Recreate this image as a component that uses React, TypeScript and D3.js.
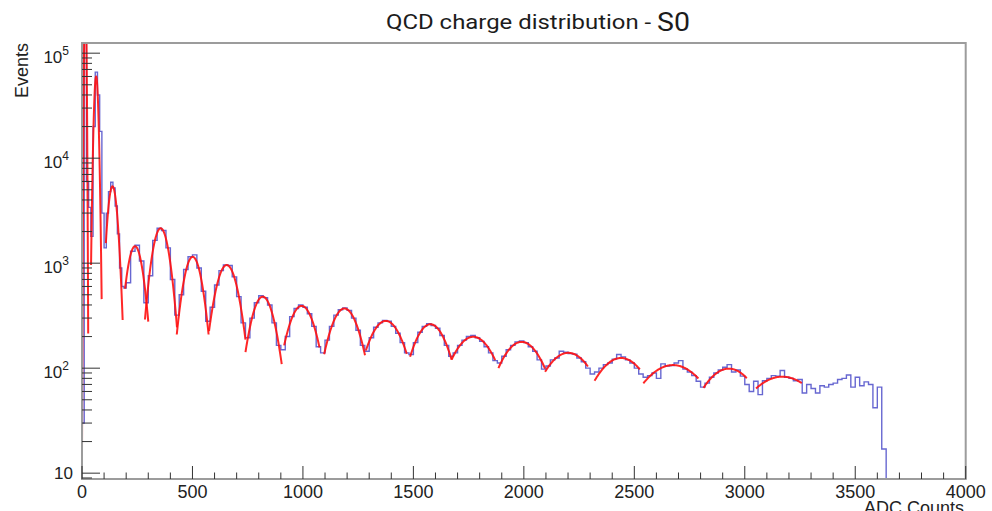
import React from "react";
import * as d3 from "d3";

const W = 992;
const H = 511;
const PLOT = { left: 82, right: 965.7, top: 43, bottom: 479 };

// Histogram: ADC counts 0–200 in 10-wide bins
const lowBinWidth = 10;
const lowCounts = [30, 150000, 6000, 3400, 1800, 20000, 66000, 40000, 18000, 3000,
  1400, 3000, 4800, 5900, 5200, 3500, 1900, 900, 600, 580];

// Histogram: ADC counts 200–3640 in 20-wide bins
const highStart = 200;
const highBinWidth = 20;
const highCounts = [
  650, 1300, 1480, 1050, 420,
  760, 1650, 2150, 2050, 1400,
  700, 320, 500, 870, 1150,
  1200, 900, 540, 280, 380,
  620, 850, 960, 950, 740,
  480, 270, 195, 300, 420,
  490, 470, 400, 270, 165,
  150, 200, 310, 370, 400,
  380, 330, 250, 160, 140,
  185, 250, 320, 360, 375,
  355, 300, 230, 165, 145,
  195, 245, 270, 285, 280,
  250, 215, 175, 140, 135,
  175, 220, 250, 265, 255,
  240, 205, 165, 130, 140,
  165, 185, 200, 205, 195,
  180, 160, 140, 118, 112,
  130, 150, 165, 178, 182,
  175, 160, 145, 120, 98,
  105, 120, 125, 145, 142,
  138, 136, 125, 115, 100,
  88, 92, 100, 108, 112,
  122, 135, 128, 120, 112,
  100, 88, 82, 85, 90,
  80, 110, 105, 106, 112,
  118, 98, 92, 85, 75,
  66, 72, 82, 90, 96,
  102, 108, 92, 96, 84,
  70, 60, 75, 56, 76,
  80, 85, 84, 95, 82,
  80, 76, 78, 58, 70,
  64, 58, 68, 66, 70,
  72, 78, 80, 86, 66,
  82, 68, 74, 70, 42,
  66, 17,
];

// Gaussian fits (red), one per photo-electron peak
const fitMean = [15, 64, 138, 240, 356, 501, 655, 818, 994, 1188, 1375, 1577, 1771, 1990, 2201, 2440, 2675, 2928, 3170];
const fitSigma = [3.3, 8, 19, 33, 35.5, 39, 47, 50, 60, 65, 79, 77, 98, 98, 115, 120, 150, 125, 165];
const fitAmp = [500000, 60000, 5400, 1450, 2150, 1150, 960, 480, 392, 370, 282, 262, 199, 178, 140, 125, 107, 99, 83];
const fitLow = [0, 41, 108, 195, 285, 429, 575, 740, 915, 1096, 1285, 1485, 1673, 1885, 2096, 2320, 2541, 2813, 3051];
const fitHigh = [28, 89, 184, 300, 430, 573, 740, 904, 1075, 1281, 1470, 1673, 1870, 2096, 2290, 2525, 2790, 3009, 3258];

const xMajorTicks = [0, 500, 1000, 1500, 2000, 2500, 3000, 3500, 4000];
const xMinorStep = 100;
const yMajorTicks = [10, 100, 1000, 10000, 100000];
const yMajorExp = ["", "2", "3", "4", "5"];
const xDomain = [0, 4000];
const yDomain = [8.8, 125000];

const title = "QCD charge distribution - ";
const titleTail = "S0";
const xTitle = "ADC Counts";
const yTitle = "Events";

export default function App() {
  const x = d3.scaleLinear().domain(xDomain).range([PLOT.left, PLOT.right]);
  const y = d3.scaleLog().domain(yDomain).range([PLOT.bottom, PLOT.top]);
  const yv = (v: number) => (v <= yDomain[0] ? PLOT.bottom : y(v));

  const bins: { x0: number; x1: number; v: number }[] = [];
  lowCounts.forEach((v, i) => bins.push({ x0: i * lowBinWidth, x1: (i + 1) * lowBinWidth, v }));
  highCounts.forEach((v, i) =>
    bins.push({ x0: highStart + i * highBinWidth, x1: highStart + (i + 1) * highBinWidth, v })
  );
  const last = bins[bins.length - 1].x1;
  bins.push({ x0: last, x1: last + highBinWidth, v: 0 });

  const histPts: [number, number][] = [[x(0), PLOT.bottom]];
  bins.forEach((b) => {
    histPts.push([x(b.x0), yv(b.v)]);
    histPts.push([x(b.x1), yv(b.v)]);
  });
  const histPath = d3.line()(histPts) || "";

  const fitPaths = fitMean.map((m, k) => {
    const n = 80;
    const xs = d3.range(n + 1).map((i) => fitLow[k] + ((fitHigh[k] - fitLow[k]) * i) / n);
    const line = d3
      .line<number>()
      .x((a) => x(a))
      .y((a) => yv(fitAmp[k] * Math.exp(-0.5 * ((a - m) / fitSigma[k]) ** 2)));
    return line(xs) || "";
  });

  const xMinor = d3.range(xDomain[0], xDomain[1] + 1, xMinorStep).filter((t) => t % 500 !== 0);
  const yMinor: number[] = [];
  [1, 10, 100, 1000, 10000, 100000].forEach((d) => {
    for (let m = 2; m <= 9; m++) {
      const v = m * d;
      if (v > yDomain[0] && v < yDomain[1]) yMinor.push(v);
    }
  });

  const font = "Liberation Sans, Arial, Helvetica, sans-serif";
  const tickColor = "#333";
  const frameColor = "#9c9c9c";

  return (
    <svg
      width={W}
      height={H}
      style={{ position: "absolute", left: 0, top: 0, background: "#fff" }}
      fontFamily={font}
    >
      <defs>
        <clipPath id="plotClip">
          <rect x={PLOT.left} y={PLOT.top} width={PLOT.right - PLOT.left} height={PLOT.bottom - PLOT.top} />
        </clipPath>
      </defs>
      <rect x={0} y={0} width={W} height={H} fill="#fff" />

      {/* title */}
      <text
        x={386}
        y={29}
        fontFamily="Roboto, Noto Sans, sans-serif"
        fontSize={21}
        fill="#1c1c1c"
        textLength={304}
        lengthAdjust="spacingAndGlyphs"
      >
        {title}
        <tspan fontSize={25} dy={1.5}>{titleTail}</tspan>
      </text>

      {/* data */}
      <g clipPath="url(#plotClip)">
        <path d={histPath} fill="none" stroke="#5656cc" strokeWidth={1.4} strokeOpacity={0.9} />
        {fitPaths.map((d, k) => (
          <path key={k} d={d} fill="none" stroke="#ff1010" strokeWidth={2} strokeOpacity={0.9} strokeLinejoin="round" />
        ))}
      </g>

      {/* frame */}
      <rect
        x={PLOT.left}
        y={PLOT.top}
        width={PLOT.right - PLOT.left}
        height={PLOT.bottom - PLOT.top}
        fill="none"
        stroke={frameColor}
        strokeWidth={2}
      />

      {/* x ticks */}
      {xMajorTicks.map((t) => (
        <g key={"xM" + t}>
          <line x1={x(t)} x2={x(t)} y1={PLOT.bottom} y2={PLOT.bottom - 13} stroke={tickColor} strokeWidth={1} />
          <text x={x(t)} y={498} textAnchor="middle" fontSize={18} fill="#222">
            {t}
          </text>
        </g>
      ))}
      {xMinor.map((t) => (
        <line key={"xm" + t} x1={x(t)} x2={x(t)} y1={PLOT.bottom} y2={PLOT.bottom - 6.5} stroke={tickColor} strokeWidth={1} />
      ))}

      {/* y ticks */}
      {yMajorTicks.map((t, i) => (
        <g key={"yM" + t}>
          <line x1={PLOT.left} x2={PLOT.left + 18} y1={y(t)} y2={y(t)} stroke={tickColor} strokeWidth={1} />
          {yMajorExp[i] === "" ? (
            <text x={73} y={y(t) + 6} textAnchor="end" fontSize={17} fill="#222">
              10
            </text>
          ) : (
            <text x={69} y={y(t) + 10} textAnchor="end" fontSize={17} fill="#222">
              10
              <tspan fontSize={12} dy={-8}>
                {yMajorExp[i]}
              </tspan>
            </text>
          )}
        </g>
      ))}
      {yMinor.map((t) => (
        <line key={"ym" + t} x1={PLOT.left} x2={PLOT.left + 10} y1={y(t)} y2={y(t)} stroke={tickColor} strokeWidth={1} />
      ))}

      {/* axis titles */}
      <text transform={`translate(28,${PLOT.top}) rotate(-90)`} textAnchor="end" fontSize={18} fill="#222">
        {yTitle}
      </text>
      <text x={964} y={514} textAnchor="end" fontSize={18} fill="#222">
        {xTitle}
      </text>
    </svg>
  );
}
